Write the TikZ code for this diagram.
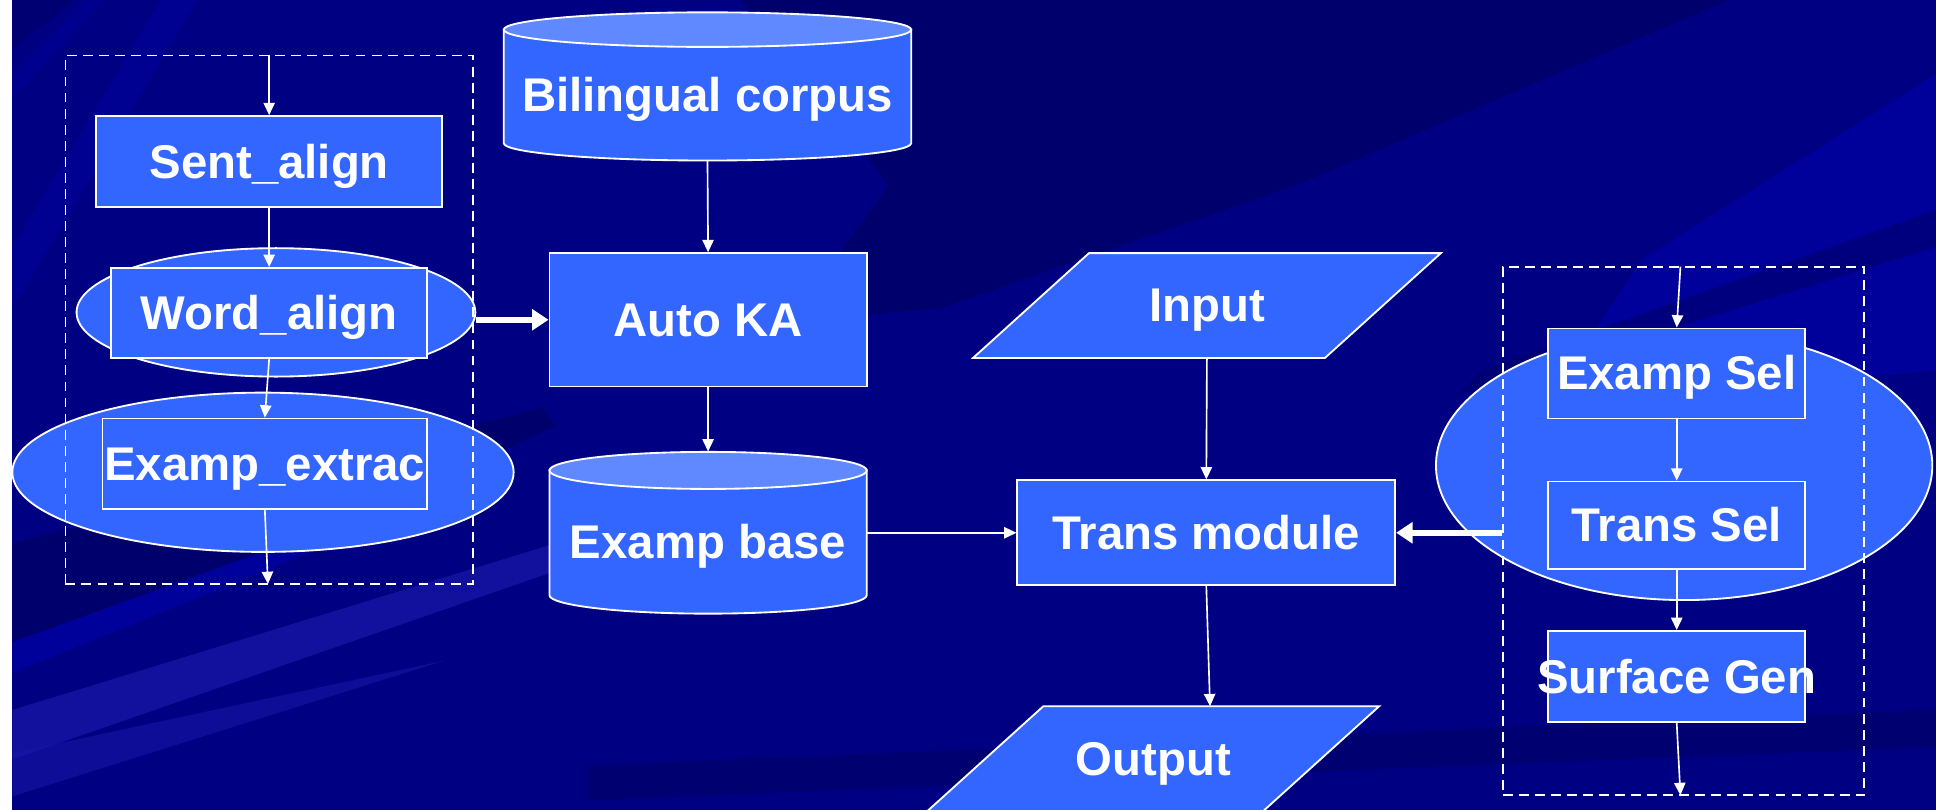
\documentclass[tikz,border=0pt]{standalone}
\usepackage{fontspec}
\setmainfont{Liberation Sans}
\usetikzlibrary{shapes.geometric,arrows.meta}
\definecolor{navy}{RGB}{0,0,130}
\definecolor{boxblue}{RGB}{51,102,255}
\definecolor{toplight}{RGB}{96,136,255}
\definecolor{streak}{RGB}{22,22,165}
\definecolor{litestreak}{RGB}{0,0,155}
\definecolor{darkstreak}{RGB}{0,0,108}
\newcommand\ppstr{\rule[-0.212em]{0pt}{1.117em}}
\newcommand\upstr[1]{\rule{0pt}{\dimexpr0.905em+#1\relax}}
\begin{document}
\begin{tikzpicture}[x=0.6pt,y=-0.6pt,
  txt/.style={text=white,font=\bfseries\fontsize{23}{27}\selectfont},
  proc/.style={txt,draw=white,line width=0.9pt,fill=boxblue,rectangle,inner sep=0pt},
  ell/.style={draw=white,line width=0.9pt,fill=boxblue,ellipse,inner sep=0pt},
  grp/.style={draw=white,line width=0.9pt,dash pattern=on 4.8pt off 3pt,rectangle,inner sep=0pt},
  hold/.style={txt,rectangle,inner sep=0pt},
  shp/.style={draw=white,line width=0.9pt,fill=boxblue},
  conn/.style={draw=white,line width=0.8pt,-{Triangle[length=6pt,width=5.5pt]}},
  bigconn/.style={draw=white,line width=3pt,-{Triangle[length=8pt,width=10pt]}}]
\useasboundingbox (0,0) rectangle (1568,656);
\clip (0,0) rectangle (1568,656);
% background
\fill[white] (0,0) rectangle (10,656);
\fill[navy] (10,0) rectangle (1568,656);
\fill[darkstreak] (600,0) -- (1400,0) -- (1050,150) -- (760,250) -- (640,260) -- (720,150) -- cycle;
\fill[darkstreak,opacity=0.7] (10,0) -- (60,0) -- (10,40) -- cycle;
\fill[litestreak] (1568,60) -- (1568,300) -- (1250,330) -- (1330,210) -- cycle;
\fill[darkstreak,opacity=0.6] (1568,170) -- (1568,200) -- (1180,320) -- (1200,300) -- cycle;
\fill[litestreak,opacity=0.6] (10,200) -- (130,0) -- (160,0) -- (10,250) -- cycle;
\fill[litestreak,opacity=0.5] (10,60) -- (70,0) -- (85,0) -- (10,80) -- cycle;
\fill[darkstreak] (10,440) -- (440,330) -- (450,345) -- (180,470) -- (10,520) -- cycle;
\fill[streak,opacity=0.8] (10,575) -- (450,440) -- (500,425) -- (500,445) -- (10,615) -- cycle;
\fill[litestreak] (10,520) -- (260,430) -- (270,440) -- (10,545) -- cycle;
\fill[streak,opacity=0.6] (10,610) -- (360,535) -- (10,645) -- cycle;
\fill[darkstreak,opacity=0.8] (475,620) -- (1568,575) -- (1568,605) -- (475,648) -- cycle;
% ellipses
\node[ell,minimum width=193.8pt,minimum height=62.4pt] (wordell) at (223.5,253) {};
\node[ell,minimum width=243.6pt,minimum height=77.4pt] (extell) at (213,382.5) {};
\node[ell,minimum width=241.2pt,minimum height=130.8pt] (selell) at (1364,377) {};
% dashed groups
\node[grp,minimum width=198pt,minimum height=256.8pt] (lbox) at (218,259) {};
\node[grp,minimum width=175.8pt,minimum height=256.8pt] (rbox) at (1363.5,430) {};
% left column
\node[proc,minimum width=168pt,minimum height=44.4pt] (sent) at (218,131) {\makebox[0pt]{\ppstr Sent\_align}};
\node[proc,minimum width=153.6pt,minimum height=43.8pt] (word) at (218,253.5) {\makebox[0pt]{\ppstr Word\_align}};
\node[proc,minimum width=157.8pt,minimum height=43.8pt] (extrac) at (214.5,375.5) {\makebox[0pt]{\ppstr Examp\_extrac}};
% cylinders
\path[shp] (408,24) -- (408,116) arc[start angle=180,end angle=360,x radius=99pt,y radius=8.4pt] -- (738,24) -- cycle;
\path[shp,fill=toplight] (573,24) ellipse[x radius=99pt,y radius=8.4pt];
\node[hold,minimum width=198pt,minimum height=72pt] (corpus) at (573,70) {\makebox[0pt]{\ppstr\upstr{8.4pt}Bilingual corpus}};
\path[shp] (445,381) -- (445,482) arc[start angle=180,end angle=360,x radius=77.1pt,y radius=9pt] -- (702,381) -- cycle;
\path[shp,fill=toplight] (573.5,381) ellipse[x radius=77.1pt,y radius=9pt];
\node[hold,minimum width=154.2pt,minimum height=78.6pt] (base) at (573.5,431.5) {\makebox[0pt]{\ppstr\upstr{9pt}Examp base}};
\node[proc,minimum width=154.2pt,minimum height=64.8pt] (autoka) at (573.5,259) {\makebox[0pt]{\ppstr Auto KA}};
% parallelograms
\path[shp] (882,205) -- (1167,205) -- (1073,290) -- (788,290) -- cycle;
\node[hold,minimum width=227.4pt,minimum height=51pt] (input) at (977.5,247.5) {\ppstr Input};
\path[shp] (845,572) -- (1117,572) -- (1008.6,670) -- (736.6,670) -- cycle;
\node[hold,minimum width=219.6pt,minimum height=51pt] (output) at (934,614.5) {\ppstr Output};
\node[proc,minimum width=183.6pt,minimum height=51pt] (trans) at (977,431.5) {\makebox[0pt]{\ppstr Trans module}};
% right column
\node[proc,minimum width=124.8pt,minimum height=43.8pt] (esel) at (1358,302.5) {\makebox[0pt]{\ppstr Examp Sel}};
\node[proc,minimum width=124.8pt,minimum height=42.6pt] (tsel) at (1358,425.5) {\makebox[0pt]{\ppstr Trans Sel}};
\node[proc,minimum width=124.8pt,minimum height=44.4pt] (sgen) at (1358,548) {\makebox[0pt]{\ppstr Surface Gen}};
\coordinate (rin) at (1361,216);
\coordinate (rout) at (1361,644);
\coordinate (lout) at (217,473);
\coordinate (oin) at (980,572);
% connectors
\draw[conn] (sent.north |- lbox.north) -- (sent.north);
\draw[conn] (sent.south) -- (word.north);
\draw[conn] (word.south) -- (extrac.north);
\draw[conn] (extrac.south) -- (lout);
\draw[bigconn] (wordell.east |- autoka.west) -- (autoka.west);
\draw[conn] (corpus.south) -- (autoka.north);
\draw[conn] (autoka.south) -- (base.north);
\draw[conn] (base.east) -- (trans.west);
\draw[conn] (input.south) -- (trans.north);
\draw[conn] (trans.south) -- (oin);
\draw[bigconn] (rbox.west |- trans.east) -- (trans.east);
\draw[conn] (rin) -- (esel.north);
\draw[conn] (esel.south) -- (tsel.north);
\draw[conn] (tsel.south) -- (sgen.north);
\draw[conn] (sgen.south) -- (rout);
\end{tikzpicture}
\end{document}
